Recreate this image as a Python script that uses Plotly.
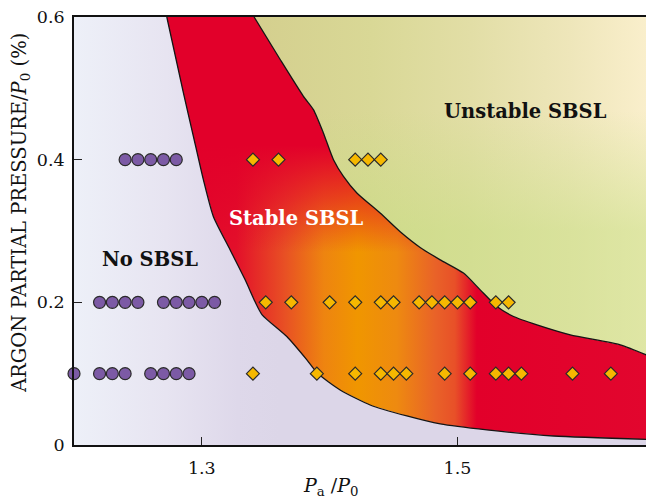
import plotly.graph_objects as go

# ---------------- data ----------------
# Phase boundary between "No SBSL" and "Stable SBSL"
lower_x = [1.2726, 1.2856, 1.2934, 1.3012, 1.3090, 1.3221, 1.3339, 1.3417, 1.3472,
           1.3665, 1.3822, 1.3905, 1.4082, 1.4317, 1.4604, 1.4865, 1.5231, 1.5752, 1.6478]
lower_y = [0.600, 0.4936, 0.4327, 0.3719, 0.3204, 0.2737, 0.2316, 0.2007, 0.1825,
           0.1520, 0.1193, 0.1006, 0.0772, 0.0561, 0.0407, 0.0295, 0.0211, 0.0126, 0.0080]

# Phase boundary between "Stable SBSL" and "Unstable SBSL"
upper_x = [1.3409, 1.3613, 1.3795, 1.3873, 1.3951, 1.4030, 1.4108, 1.4213,
           1.4395, 1.4552, 1.4708, 1.4865, 1.5047, 1.5178, 1.5309, 1.5439, 1.5622,
           1.5883, 1.6274, 1.6478]
upper_y = [0.600, 0.5404, 0.4888, 0.4702, 0.4375, 0.4000, 0.3766, 0.3533,
           0.3252, 0.2990, 0.2770, 0.2596, 0.2410, 0.2175, 0.1941, 0.1801, 0.1684,
           0.1544, 0.1404, 0.1263]

# No SBSL observations (circles)
none_x = [1.24, 1.25, 1.26, 1.27, 1.28,
          1.22, 1.23, 1.24, 1.25, 1.27, 1.28, 1.29, 1.30, 1.31,
          1.20, 1.22, 1.23, 1.24, 1.26, 1.27, 1.28, 1.29]
none_y = [0.4] * 5 + [0.2] * 9 + [0.1] * 8

# SBSL observations (diamonds)
sbsl_x = [1.34, 1.36, 1.42, 1.43, 1.44,
          1.35, 1.37, 1.40, 1.42, 1.44, 1.45, 1.47, 1.48, 1.49, 1.50, 1.51, 1.53, 1.54,
          1.34, 1.39, 1.42, 1.44, 1.45, 1.46, 1.49, 1.51, 1.53, 1.54, 1.55, 1.59, 1.62]
sbsl_y = [0.4] * 5 + [0.2] * 13 + [0.1] * 13

x_ticks = [1.3, 1.5]
x_tick_labels = ["1.3", "1.5"]
y_ticks = [0, 0.2, 0.4, 0.6]
y_tick_labels = ["0", "0.2", "0.4", "0.6"]

X_MIN, X_MAX = 1.2, 1.6475
Y_MIN, Y_MAX = 0.0, 0.6

SERIF = "DejaVu Serif, Liberation Serif, serif"

fig = go.Figure()

# ---- No SBSL region ----
nx = [X_MIN, X_MIN] + lower_x + [lower_x[-1]]
ny = [Y_MIN, Y_MAX] + lower_y + [Y_MIN]
fig.add_trace(go.Scatter(
    x=nx, y=ny, mode="none", fill="toself", hoverinfo="skip", showlegend=False,
    fillgradient=dict(type="horizontal", start=1.20, stop=1.36,
                      colorscale=[[0, "#EDF0F8"], [0.45, "#E7E4F1"], [0.8, "#DED8EA"], [1, "#DCD6E8"]]),
))

# ---- Stable SBSL region ----
sx = upper_x + lower_x[::-1]
sy = upper_y + lower_y[::-1]
fig.add_trace(go.Scatter(
    x=sx, y=sy, mode="none", fill="toself", hoverinfo="skip", showlegend=False,
    fillgradient=dict(type="horizontal", start=1.27, stop=1.65,
                      colorscale=[[0, "#E2002A"], [0.15, "#E3102A"], [0.25, "#E85024"],
                                  [0.33, "#EE8410"], [0.40, "#F09600"], [0.48, "#EE8A10"],
                                  [0.56, "#E96228"], [0.60, "#E85028"], [0.645, "#E2002A"],
                                  [1, "#E2062E"]]),
))
fig.add_trace(go.Scatter(
    x=sx, y=sy, mode="none", fill="toself", hoverinfo="skip", showlegend=False,
    fillgradient=dict(type="vertical", start=0.0, stop=0.6,
                      colorscale=[[0, "rgba(226,0,42,0)"], [0.45, "rgba(226,0,42,0)"],
                                  [0.58, "rgba(226,0,42,0.55)"], [0.70, "rgba(226,0,42,1)"],
                                  [1, "rgba(226,0,42,1)"]]),
))

# ---- Unstable SBSL region ----
ux = upper_x + [upper_x[-1]]
uy = upper_y + [Y_MAX]
fig.add_trace(go.Scatter(
    x=ux, y=uy, mode="none", fill="toself", hoverinfo="skip", showlegend=False,
    fillgradient=dict(type="horizontal", start=1.34, stop=1.65,
                      colorscale=[[0, "#D4CF8E"], [0.3, "#D9D896"], [0.55, "#E2DEA6"],
                                  [0.8, "#EEE6BA"], [1, "#FAEFCC"]]),
))
fig.add_trace(go.Scatter(
    x=ux, y=uy, mode="none", fill="toself", hoverinfo="skip", showlegend=False,
    fillgradient=dict(type="vertical", start=0.0, stop=0.6,
                      colorscale=[[0, "rgba(196,222,126,0.5)"], [0.5, "rgba(196,222,126,0.5)"],
                                  [0.78, "rgba(196,222,126,0)"], [1, "rgba(196,222,126,0)"]]),
))

# ---- boundary lines ----
for bx, by in ((lower_x, lower_y), (upper_x, upper_y)):
    fig.add_trace(go.Scatter(
        x=bx, y=by, mode="lines", hoverinfo="skip", showlegend=False,
        line=dict(color="#151515", width=1.3, shape="spline", smoothing=0.6),
    ))

# ---- observations ----
fig.add_trace(go.Scatter(
    x=none_x, y=none_y, mode="markers", showlegend=False, cliponaxis=False,
    marker=dict(symbol="circle", size=12, color="#7C5AA5",
                line=dict(color="#2A2A2A", width=1.2)),
))
fig.add_trace(go.Scatter(
    x=sbsl_x, y=sbsl_y, mode="markers", showlegend=False, cliponaxis=False,
    marker=dict(symbol="diamond", size=10, color="#F6B800",
                line=dict(color="#2A2A2A", width=1.2)),
))

# ---- region labels ----
fig.add_annotation(x=1.553, y=0.467, text="<b>Unstable SBSL</b>", showarrow=False,
                   font=dict(family=SERIF, size=19.5, color="#111111"))
fig.add_annotation(x=1.3738, y=0.317, text="<b>Stable SBSL</b>", showarrow=False,
                   font=dict(family=SERIF, size=19.5, color="#FFFFFF"))
fig.add_annotation(x=1.2595, y=0.2596, text="<b>No SBSL</b>", showarrow=False,
                   font=dict(family=SERIF, size=19.5, color="#111111"))

# ---- axis titles ----
fig.add_annotation(xref="paper", yref="paper", x=-0.0944, y=0.542,
                   text="ARGON PARTIAL PRESSURE/<i>P</i><sub>0</sub> (%)",
                   textangle=-90, showarrow=False, xanchor="center", yanchor="middle",
                   font=dict(family=SERIF, size=19.5, color="#111111"))
fig.add_annotation(xref="x", yref="paper", x=1.4003, y=-0.098,
                   text="<i>P</i><sub>a</sub> /<i>P</i><sub>0</sub>",
                   showarrow=False, xanchor="center", yanchor="middle",
                   font=dict(family=SERIF, size=19, color="#111111"))

fig.update_layout(
    width=646, height=498,
    margin=dict(l=74, r=0, t=17, b=53),
    paper_bgcolor="white", plot_bgcolor="#DCD6E8",
    font=dict(family=SERIF, size=17.5, color="#111111"),
    showlegend=False,
)
fig.update_xaxes(range=[X_MIN, X_MAX], tickvals=x_ticks, ticktext=x_tick_labels,
                 ticks="inside", ticklen=8, tickwidth=1.2, tickcolor="#222",
                 showline=True, linecolor="#111", linewidth=1.6, mirror=True,
                 showgrid=False, zeroline=False, ticklabelstandoff=6)
fig.update_yaxes(range=[Y_MIN, Y_MAX], tickvals=y_ticks, ticktext=y_tick_labels,
                 ticks="inside", ticklen=8, tickwidth=1.2, tickcolor="#222",
                 showline=True, linecolor="#111", linewidth=1.6, mirror=False,
                 showgrid=False, zeroline=False, ticklabelstandoff=4)

fig.write_html(
    "out.html",
    config={"displayModeBar": False},
    post_script="document.body.style.margin='0';document.body.style.overflow='hidden';",
)
